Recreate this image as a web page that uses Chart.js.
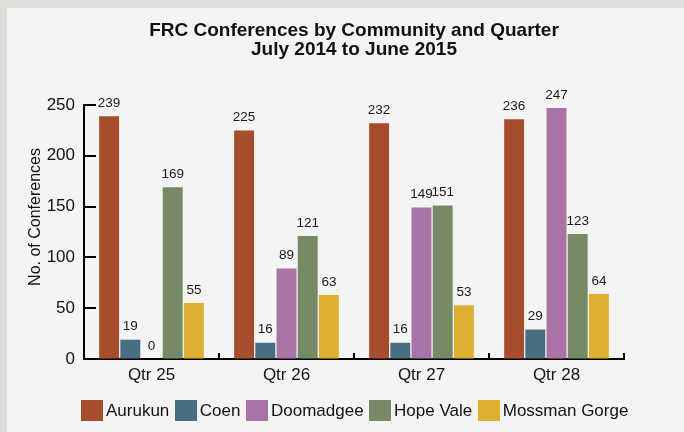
<!DOCTYPE html>
<html>
<head>
<meta charset="utf-8">
<title>FRC Conferences by Community and Quarter</title>
<script src="https://cdn.jsdelivr.net/npm/chart.js@4"></script>
<style>
  html, body { margin: 0; padding: 0; background: #dcdfd7; }
  #frame { position: relative; width: 684px; height: 432px; overflow: hidden; }
  #card { position: absolute; left: 7px; top: 8px; right: 0; bottom: 0; background: #f4f4f2; }
  #chart { position: absolute; left: 0; top: 0; }
  #legend {
    position: absolute; left: 81px; top: 400px;
    display: flex; align-items: center;
    font: 17px "Liberation Sans", Arial, Helvetica, sans-serif; color: #111;
  }
  #legend .item { display: flex; align-items: center; margin-right: 5.5px; white-space: nowrap; }
  #legend .swatch { width: 22px; height: 21px; margin-right: 3px; }
</style>
</head>
<body>
<div id="frame">
  <div id="card"></div>
  <canvas id="chart" width="684" height="432"></canvas>
  <div id="legend"></div>
</div>
<script>
const quarters = ['Qtr 25', 'Qtr 26', 'Qtr 27', 'Qtr 28'];
const aurukun = [239, 225, 232, 236];
const coen = [19, 16, 16, 29];
const doomadgee = [0, 89, 149, 247];
const hopeVale = [169, 121, 151, 123];
const mossmanGorge = [55, 63, 53, 64];
const yTicks = [0, 50, 100, 150, 200, 250];

const FONT = '"Liberation Sans", Arial, Helvetica, sans-serif';
Chart.defaults.font.family = FONT;
Chart.defaults.color = '#111';

// number above each bar
const valueLabels = {
  id: 'valueLabels',
  afterDatasetsDraw(chart) {
    const ctx = chart.ctx;
    ctx.save();
    ctx.font = '13.5px ' + FONT;
    ctx.fillStyle = '#1a1a1a';
    ctx.textAlign = 'center';
    ctx.textBaseline = 'middle';
    chart.data.datasets.forEach((ds, i) => {
      chart.getDatasetMeta(i).data.forEach((bar, j) => {
        ctx.fillText(ds.data[j], bar.x, bar.y - 13);
      });
    });
    ctx.restore();
  }
};

// inward ticks on the y axis, short upward ticks between quarters, axis title
const axisTicks = {
  id: 'axisTicks',
  afterDraw(chart) {
    const { ctx, chartArea, scales: { x, y } } = chart;
    ctx.save();
    ctx.strokeStyle = '#000';
    ctx.lineWidth = 2;
    ctx.beginPath();
    yTicks.forEach(v => {
      const py = Math.round(y.getPixelForValue(v));
      ctx.moveTo(chartArea.left, py);
      ctx.lineTo(chartArea.left + 12, py);
    });
    quarters.forEach((q, i) => {
      const px = i < quarters.length - 1
        ? Math.round((x.getPixelForValue(i) + x.getPixelForValue(i + 1)) / 2)
        : chartArea.right;
      ctx.moveTo(px, chartArea.bottom);
      ctx.lineTo(px, chartArea.bottom - 6);
    });
    ctx.stroke();

    ctx.translate(36, (chartArea.top + chartArea.bottom) / 2 - 15);
    ctx.rotate(-Math.PI / 2);
    ctx.font = '16px ' + FONT;
    ctx.fillStyle = '#111';
    ctx.textAlign = 'center';
    ctx.textBaseline = 'middle';
    ctx.fillText('No. of Conferences', 0, 0);
    ctx.restore();
  }
};

const series = [
  { label: 'Aurukun', data: aurukun, color: '#a64d2d' },
  { label: 'Coen', data: coen, color: '#466f82' },
  { label: 'Doomadgee', data: doomadgee, color: '#aa73a8' },
  { label: 'Hope Vale', data: hopeVale, color: '#768a66' },
  { label: 'Mossman Gorge', data: mossmanGorge, color: '#ddb034' }
];

const chart = new Chart(document.getElementById('chart'), {
  type: 'bar',
  data: {
    labels: quarters,
    datasets: series.map(s => ({
      label: s.label,
      data: s.data,
      backgroundColor: s.color,
      borderWidth: 0,
      categoryPercentage: 0.785,
      barPercentage: 0.94
    }))
  },
  options: {
    responsive: false,
    animation: false,
    layout: { padding: { left: 0, right: 60, top: 0, bottom: 43 } },
    plugins: {
      title: {
        display: true,
        fullSize: false,
        text: ['FRC Conferences by Community and Quarter', 'July 2014 to June 2015'],
        color: '#111',
        font: { size: 19, weight: 'bold', lineHeight: 1.0 },
        padding: { top: 21, bottom: 46 }
      },
      legend: { display: false },
      tooltip: { enabled: false }
    },
    scales: {
      x: {
        grid: { drawOnChartArea: false, drawTicks: false },
        border: { color: '#000', width: 2 },
        ticks: { color: '#111', font: { size: 17 }, padding: 6 },
        afterFit(s) { s.height = 30; }
      },
      y: {
        min: 0,
        max: 250,
        grid: { drawOnChartArea: false, drawTicks: false },
        border: { color: '#000', width: 2 },
        ticks: { stepSize: 50, color: '#111', font: { size: 17 }, padding: 9 },
        afterFit(s) { s.width = 84; }
      }
    }
  },
  plugins: [valueLabels, axisTicks]
});

// legend row under the chart, built from the datasets
const legendEl = document.getElementById('legend');
chart.data.datasets.forEach(ds => {
  const item = document.createElement('div');
  item.className = 'item';
  const swatch = document.createElement('span');
  swatch.className = 'swatch';
  swatch.style.background = ds.backgroundColor;
  const text = document.createElement('span');
  text.textContent = ds.label;
  item.appendChild(swatch);
  item.appendChild(text);
  legendEl.appendChild(item);
});
</script>
</body>
</html>
